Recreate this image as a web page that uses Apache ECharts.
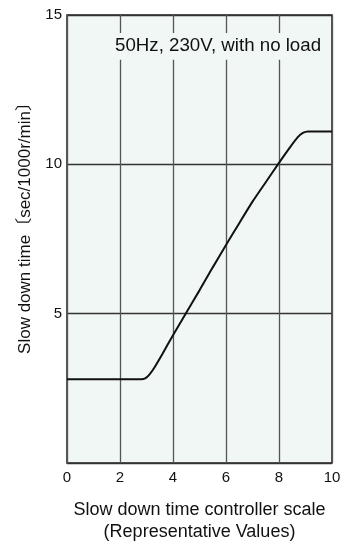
<!DOCTYPE html>
<html>
<head>
<meta charset="utf-8">
<script src="https://cdn.jsdelivr.net/npm/echarts@6/dist/echarts.min.js"></script>
<style>
  html, body { margin: 0; padding: 0; background: #fff; }
  #chart { width: 348px; height: 548px; }
</style>
</head>
<body>
<div id="chart"></div>
<script>
// Controller scale setting (x) and resulting slow down time (y)
const scaleValues = [0, 2.8, 2.95, 3.1, 3.3, 3.6, 4.0, 4.5, 5.0, 5.5, 6.0, 6.5, 7.0, 7.5, 8.0, 8.4, 8.7, 8.9, 9.1, 10];
const slowDownTimes = [2.8, 2.8, 2.83, 2.95, 3.2, 3.65, 4.28, 5.03, 5.78, 6.55, 7.3, 8.03, 8.75, 9.4, 10.05, 10.55, 10.9, 11.05, 11.1, 11.1];
const xTicks = [0, 2, 4, 6, 8, 10];
const yTicks = [5, 10, 15];

const xAxisTitle = 'Slow down time controller scale\n(Representative Values)';
const yAxisTitle = 'Slow down time〔sec/1000r/min〕';
const noteText = '50Hz, 230V, with no load';

const FONT = "'Liberation Sans', Arial, 'Noto Sans CJK JP', sans-serif";
const PLOT_BG = '#f0f7f5';

const chart = echarts.init(document.getElementById('chart'), null, { renderer: 'canvas' });

chart.setOption({
  backgroundColor: '#ffffff',
  animation: false,
  grid: {
    left: 67, right: 16, top: 15, bottom: 83,
    show: true,
    backgroundColor: PLOT_BG,
    borderColor: '#1e1e1e',
    borderWidth: 1.5
  },
  title: {
    text: noteText,
    left: 112, top: 33,
    padding: [4, 3, 4, 3],
    backgroundColor: PLOT_BG,
    textStyle: { fontFamily: FONT, fontSize: 18.7, fontWeight: 'normal', color: '#111' }
  },
  xAxis: {
    type: 'value',
    min: 0, max: 10, interval: 2,
    name: xAxisTitle,
    nameLocation: 'middle',
    nameGap: 36,
    nameTextStyle: { fontFamily: FONT, fontSize: 18, color: '#111', lineHeight: 22 },
    axisLine: { show: false },
    axisTick: { show: false },
    axisLabel: {
      margin: 7,
      fontFamily: FONT, fontSize: 15, color: '#111',
      formatter: v => (xTicks.includes(v) ? String(v) : '')
    },
    splitLine: { show: true, lineStyle: { color: '#555', width: 1.3 } }
  },
  yAxis: {
    type: 'value',
    min: 0, max: 15, interval: 5,
    axisLine: { show: false },
    axisTick: { show: false },
    axisLabel: {
      margin: 5,
      fontFamily: FONT, fontSize: 15, color: '#111',
      formatter: v => (yTicks.includes(v) ? String(v) : '')
    },
    splitLine: { show: true, lineStyle: { color: '#333', width: 1.3 } }
  },
  graphic: [{
    type: 'text',
    x: 25, y: 224,
    rotation: Math.PI / 2,
    style: {
      text: yAxisTitle,
      fontFamily: FONT, fontSize: 17, fill: '#111',
      align: 'center', verticalAlign: 'middle'
    }
  }],
  series: [{
    type: 'line',
    data: scaleValues.map((x, i) => [x, slowDownTimes[i]]),
    showSymbol: false,
    smooth: 0.2,
    lineStyle: { color: '#111', width: 2 },
    z: 3
  }]
});
</script>
</body>
</html>
